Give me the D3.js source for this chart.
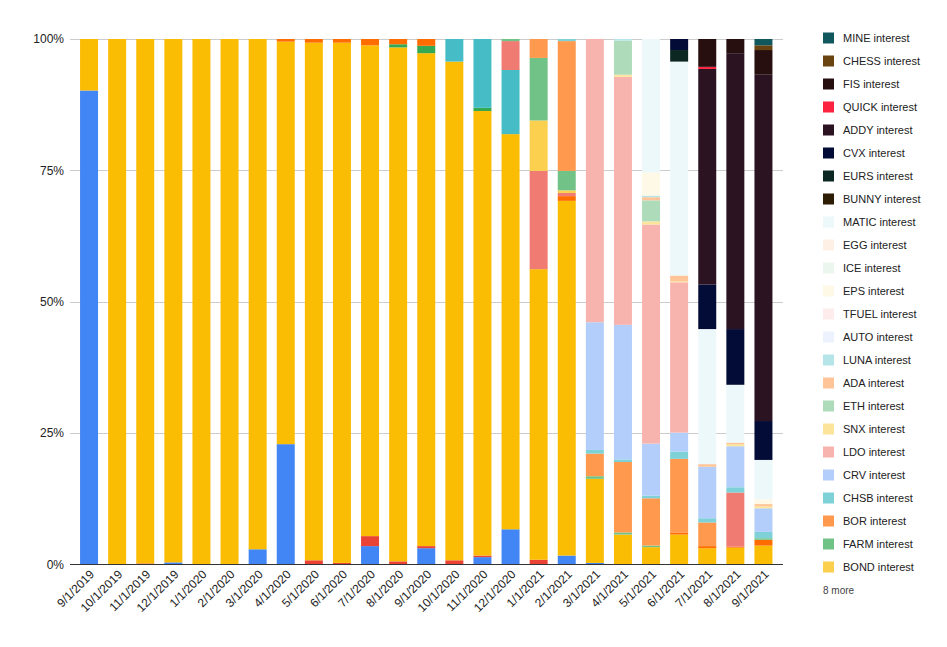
<!DOCTYPE html>
<html>
<head>
<meta charset="utf-8">
<script src="https://cdn.jsdelivr.net/npm/d3@7"></script>
<style>
  body { margin: 0; background: #fff; }
  svg { display: block; font-family: "Liberation Sans", Arial, sans-serif; }
</style>
</head>
<body>
<div id="chart"></div>
<script>
// months on the x axis
const months = ["9/1/2019","10/1/2019","11/1/2019","12/1/2019","1/1/2020","2/1/2020","3/1/2020","4/1/2020",
  "5/1/2020","6/1/2020","7/1/2020","8/1/2020","9/1/2020","10/1/2020","11/1/2020","12/1/2020","1/1/2021",
  "2/1/2021","3/1/2021","4/1/2021","5/1/2021","6/1/2021","7/1/2021","8/1/2021","9/1/2021"];

// share of each series per month (%); bottom of the stack first
const hidden1 = [90.2,0,0,0.4,0,0,2.9,22.9,0,0,3.5,0,3.1,0,1.4,6.7,0,1.7,0.3,0,0,0,0,0,0];
const hidden2 = [0,0,0.2,0,0,0,0,0,0.8,0.3,1.9,0.6,0.4,0.8,0.3,0,0.9,0,0,0,0,0,0,0,0];
const hidden3 = [9.8,100,99.8,99.6,100,100,97.1,76.6,98.5,99.0,93.4,97.8,93.8,94.9,84.6,75.2,55.3,67.5,16.0,5.7,3.3,5.7,3.1,3.2,3.6];
const hidden4 = [0,0,0,0,0,0,0,0,0,0,0,0.6,1.4,0,0.6,0,0,0,0,0,0,0,0,0,0];
const hidden5 = [0,0,0,0,0,0,0,0.5,0.7,0.7,1.2,1.0,1.3,0,0,0,0,0.9,0,0,0,0.4,0.4,0.2,1.1];
const hidden6 = [0,0,0,0,0,0,0,0,0,0,0,0,0,4.3,13.1,12.2,0,0,0,0,0,0,0,0,0];
const hidden7 = [0,0,0,0,0,0,0,0,0,0,0,0,0,0,0,0,0,0,0,0,0,0,0,0,0];
const hidden8 = [0,0,0,0,0,0,0,0,0,0,0,0,0,0,0,5.5,18.7,0.6,0,0,0,0,0,10.3,0];
const bond  = [0,0,0,0,0,0,0,0,0,0,0,0,0,0,0,0,9.6,0.5,0,0,0,0,0,0,0];
const farm  = [0,0,0,0,0,0,0,0,0,0,0,0,0,0,0,0.4,11.9,3.7,0.5,0.4,0.3,0,0,0,0.3];
const bor   = [0,0,0,0,0,0,0,0,0,0,0,0,0,0,0,0,3.6,24.7,4.3,13.4,9.0,14.0,4.5,0,0];
const chsb  = [0,0,0,0,0,0,0,0,0,0,0,0,0,0,0,0,0,0.4,0.7,0.5,0.5,1.4,0.8,1.0,1.2];
const crv   = [0,0,0,0,0,0,0,0,0,0,0,0,0,0,0,0,0,0,24.3,25.6,9.9,3.6,9.8,7.8,4.5];
const ldo   = [0,0,0,0,0,0,0,0,0,0,0,0,0,0,0,0,0,0,53.9,47.2,41.7,28.6,0,0,0];
const snx   = [0,0,0,0,0,0,0,0,0,0,0,0,0,0,0,0,0,0,0,0.4,0.6,0.2,0,0.4,0.4];
const eth   = [0,0,0,0,0,0,0,0,0,0,0,0,0,0,0,0,0,0,0,6.5,4.0,0,0,0,0];
const ada   = [0,0,0,0,0,0,0,0,0,0,0,0,0,0,0,0,0,0,0,0,0.6,1.1,0.5,0.3,0.4];
const luna  = [0,0,0,0,0,0,0,0,0,0,0,0,0,0,0,0,0,0,0,0.3,0.3,0,0,0,0];
const auto  = [0,0,0,0,0,0,0,0,0,0,0,0,0,0,0,0,0,0,0,0,0,0,0,0,0];
const tfuel = [0,0,0,0,0,0,0,0,0,0,0,0,0,0,0,0,0,0,0,0,0,0,0,0,0];
const eps   = [0,0,0,0,0,0,0,0,0,0,0,0,0,0,0,0,0,0,0,0,4.4,0,0,0,0.9];
const ice   = [0,0,0,0,0,0,0,0,0,0,0,0,0,0,0,0,0,0,0,0,0,0,0,0,0];
const egg   = [0,0,0,0,0,0,0,0,0,0,0,0,0,0,0,0,0,0,0,0,0,0,0,0,0];
const matic = [0,0,0,0,0,0,0,0,0,0,0,0,0,0,0,0,0,0,0,0,25.4,40.7,25.7,11.0,7.5];
const bunny = [0,0,0,0,0,0,0,0,0,0,0,0,0,0,0,0,0,0,0,0,0,0,0,0,0];
const eurs  = [0,0,0,0,0,0,0,0,0,0,0,0,0,0,0,0,0,0,0,0,0,2.2,0,0,0];
const cvx   = [0,0,0,0,0,0,0,0,0,0,0,0,0,0,0,0,0,0,0,0,0,2.1,8.5,10.6,7.4];
const addy  = [0,0,0,0,0,0,0,0,0,0,0,0,0,0,0,0,0,0,0,0,0,0,41.0,52.5,65.9];
const quick = [0,0,0,0,0,0,0,0,0,0,0,0,0,0,0,0,0,0,0,0,0,0,0.4,0,0];
const fis   = [0,0,0,0,0,0,0,0,0,0,0,0,0,0,0,0,0,0,0,0,0,0,5.3,2.7,4.7];
const chess = [0,0,0,0,0,0,0,0,0,0,0,0,0,0,0,0,0,0,0,0,0,0,0,0,0.9];
const mine  = [0,0,0,0,0,0,0,0,0,0,0,0,0,0,0,0,0,0,0,0,0,0,0,0,1.2];

// series in stack order; the first 8 are folded into "8 more" in the legend
const seriesNames = ["hidden 1","hidden 2","hidden 3","hidden 4","hidden 5","hidden 6","hidden 7","hidden 8",
  "BOND interest","FARM interest","BOR interest","CHSB interest","CRV interest","LDO interest","SNX interest",
  "ETH interest","ADA interest","LUNA interest","AUTO interest","TFUEL interest","EPS interest","ICE interest",
  "EGG interest","MATIC interest","BUNNY interest","EURS interest","CVX interest","ADDY interest",
  "QUICK interest","FIS interest","CHESS interest","MINE interest"];
const seriesValues = [hidden1,hidden2,hidden3,hidden4,hidden5,hidden6,hidden7,hidden8,
  bond,farm,bor,chsb,crv,ldo,snx,eth,ada,luna,auto,tfuel,eps,ice,egg,matic,bunny,eurs,cvx,addy,quick,fis,chess,mine];
const seriesColors = ["#4285f4","#ea4335","#fbbc04","#34a853","#ff6d01","#46bdc6","#7baaf7","#f07b72",
  "#fcd04f","#71c287","#ff994d","#7ed1d7","#b3cefb","#f7b4ae","#fde49b","#aedcba","#ffc599","#b5e5e8",
  "#ecf3fe","#fdeceb","#fef8e6","#ebf7ee","#fff0e6","#ecf8f9","#2d1d05","#0c2622","#030c36","#2c1321",
  "#fb2340","#270f10","#6a4410","#11585e"];
const hiddenCount = 8;
const yTicks = [0, 0.25, 0.5, 0.75, 1];

const width = 947, height = 647;

const table = months.map((m, i) => {
    const row = {month: m};
    seriesNames.forEach((s, j) => row[s] = seriesValues[j][i]);
    return row;
});

const stacked = d3.stack()
    .keys(seriesNames)
    .offset(d3.stackOffsetExpand)(table);

const color = d3.scaleOrdinal().domain(seriesNames).range(seriesColors);

const x = d3.scaleBand()
    .domain(months)
    .range([75, 777.5])
    .paddingInner(0.36)
    .paddingOuter(0.18);

const y = d3.scaleLinear()
    .domain([0, 1])
    .range([564.5, 39]);

const svg = d3.select("#chart")
    .append("svg")
    .attr("width", width)
    .attr("height", height);

// gridlines
svg.append("g")
    .selectAll("line")
    .data(yTicks.slice(1))
    .join("line")
    .attr("x1", 70).attr("x2", 783)
    .attr("y1", d => Math.round(y(d)) + 0.5)
    .attr("y2", d => Math.round(y(d)) + 0.5)
    .attr("stroke", "#cccccc");

svg.append("g")
    .selectAll("text")
    .data(yTicks)
    .join("text")
    .attr("x", 64)
    .attr("y", d => y(d))
    .attr("dy", "0.35em")
    .attr("text-anchor", "end")
    .attr("font-size", 12)
    .attr("fill", "#222")
    .text(d3.format(".0%"));

// bars
svg.append("g")
    .selectAll("g")
    .data(stacked)
    .join("g")
    .attr("fill", d => color(d.key))
    .selectAll("rect")
    .data(d => d)
    .join("rect")
    .attr("x", d => x(d.data.month))
    .attr("width", x.bandwidth())
    .attr("y", d => y(d[1]))
    .attr("height", d => Math.max(0, y(d[0]) - y(d[1])));

// baseline
svg.append("line")
    .attr("x1", 70).attr("x2", 783)
    .attr("y1", 564.5).attr("y2", 564.5)
    .attr("stroke", "#333");

// x labels, rotated
svg.append("g")
    .selectAll("text")
    .data(months)
    .join("text")
    .attr("transform", d => `translate(${x(d) + x.bandwidth() / 2 + 6},${575}) rotate(-45)`)
    .attr("text-anchor", "end")
    .attr("font-size", 12)
    .attr("fill", "#222")
    .text(d => d);

// legend, top of stack first
const legendItems = seriesNames.slice(hiddenCount).reverse();
const legend = svg.append("g")
    .selectAll("g")
    .data(legendItems)
    .join("g")
    .attr("transform", (d, i) => `translate(823,${38 + i * 23})`);

legend.append("rect")
    .attr("y", -5.5)
    .attr("width", 11)
    .attr("height", 11)
    .attr("fill", d => color(d));

legend.append("text")
    .attr("x", 20)
    .attr("dy", "0.35em")
    .attr("font-size", 11)
    .attr("fill", "#222")
    .text(d => d);

svg.append("text")
    .attr("x", 823)
    .attr("y", 38 + legendItems.length * 23)
    .attr("dy", "0.35em")
    .attr("font-size", 10)
    .attr("fill", "#444")
    .text(`${hiddenCount} more`);
</script>
</body>
</html>
